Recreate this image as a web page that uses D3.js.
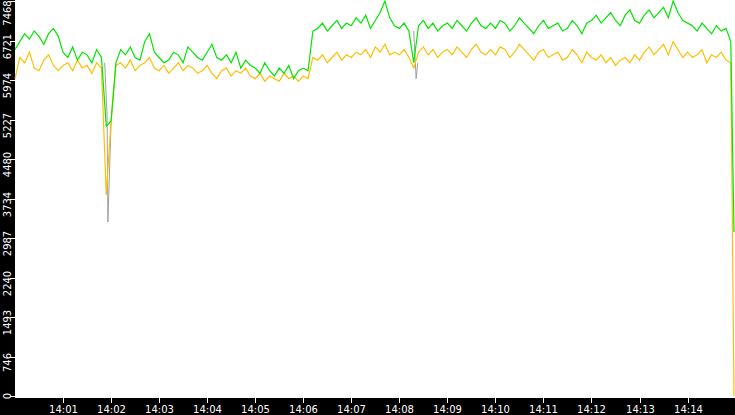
<!DOCTYPE html>
<html><head><meta charset="utf-8">
<script src="https://cdn.jsdelivr.net/npm/d3@7"></script>
<style>body{margin:0;background:#000}svg{display:block}</style>
</head><body>
<svg id="chart" width="735" height="415"></svg>
<script>
// values every 6 s from 14:00:00
const greenVals = [
6550,6700,6850,6750,6900,6800,6650,6850,6950,6800,
6500,6400,6600,6350,6500,6450,6300,6550,6400,5100,
5200,6300,6550,6450,6600,6400,6350,6700,6850,6500,
6400,6300,6350,6500,6450,6300,6600,6500,6400,6350,
6500,6650,6400,6350,6450,6300,6500,6200,6350,6250,
6200,6100,6300,6150,6050,6200,6100,6250,6000,6150,
6200,6150,6900,6950,7050,6900,7000,7100,6950,7050,
7000,7150,7050,7200,6950,7100,7250,7468,7150,7000,
6950,7050,6900,6300,7000,7100,6950,7050,6900,7000,
7050,6950,7100,7000,6900,7050,7150,7000,6950,7050,
6950,7100,7050,6900,7000,7150,7050,6950,6850,7000,
7100,6950,7000,7050,6900,6950,7100,7000,6850,7050,
7100,7200,7050,7150,7250,7100,7000,7200,7300,7100,
7050,7200,7300,7150,7250,7350,7150,7468,7250,7100,
7050,7000,6900,7050,6950,6850,7000,6900,6950,6700,3100];
const orangeVals = [
6000,6400,6300,6500,6200,6150,6350,6450,6250,6150,
6250,6300,6150,6350,6200,6250,6100,6300,6200,3800,
5200,6250,6300,6200,6350,6150,6250,6300,6400,6200,
6150,6250,6100,6200,6300,6150,6250,6200,6100,6150,
6250,6100,6000,6150,6200,6050,6150,6100,6200,6050,
6000,6100,5950,6050,6000,5950,6100,6000,6050,5950,
6050,6000,6400,6350,6450,6300,6400,6500,6350,6450,
6400,6500,6450,6550,6400,6600,6500,6650,6450,6500,
6450,6550,6400,6200,6500,6600,6450,6550,6400,6500,
6550,6450,6600,6500,6400,6550,6650,6500,6450,6550,
6450,6600,6550,6400,6500,6650,6550,6450,6350,6500,
6550,6400,6450,6500,6350,6400,6550,6450,6300,6500,
6400,6350,6450,6300,6400,6250,6350,6400,6300,6450,
6350,6500,6600,6450,6550,6650,6450,6700,6550,6400,
6500,6400,6450,6550,6300,6450,6400,6500,6350,6300,0];
// gray segments only where it shows: [seconds after 14:00, value]
const graySegs = [
  [[112,6300],[115,5300],[116,3290],[118,4200],[120,5200]],
  [[498,6900],[501,6000],[503,6300]]
];
const yTicks = [0,746,1493,2240,2987,3734,4480,5227,5974,6721,7468];
const xTickMins = [1,2,3,4,5,6,7,8,9,10,11,12,13,14];

const svg = d3.select("#chart");
const W = 735, L = 15, B = 398;
const x = d3.scaleLinear().domain([0, 898]).range([L, W - 1]);
const y = d3.scaleLinear().domain([0, 7468]).range([396, 1]);

svg.append("rect").attr("x", L).attr("y", 0).attr("width", W - L).attr("height", B).attr("fill", "#fff");

const line = d3.line().x(d => x(d[0])).y(d => y(d[1]));
const toPts = vals => vals.map((v, i) => [i === vals.length - 1 ? 898 : i * 6, v]);

graySegs.forEach(s => svg.append("path").attr("d", line(s)).attr("fill", "none").attr("stroke", "#a0a0a0").attr("stroke-width", 1));
svg.append("path").attr("d", line(toPts(orangeVals))).attr("fill", "none").attr("stroke", "#ffbf00").attr("stroke-width", 1.2);
svg.append("path").attr("d", line(toPts(greenVals))).attr("fill", "none").attr("stroke", "#00e600").attr("stroke-width", 1.2);

// y axis
yTicks.forEach(t => {
  const yy = Math.round(y(t)) + 0.5;
  svg.append("line").attr("x1", 10).attr("x2", L).attr("y1", yy).attr("y2", yy).attr("stroke", "#fff");
  const cy = Math.min(Math.max(yy + 5, 13), 396);
  svg.append("text").attr("transform", `translate(11,${cy}) rotate(-90)`)
    .attr("text-anchor", "middle").attr("fill", "#fff")
    .attr("font-family", "DejaVu Sans").attr("font-size", 10).text(t);
});
// x axis
xTickMins.forEach(m => {
  const xx = Math.round(x(m * 60)) + 0.5;
  svg.append("line").attr("x1", xx).attr("x2", xx).attr("y1", B).attr("y2", B + 5).attr("stroke", "#fff");
  svg.append("text").attr("x", xx).attr("y", 413).attr("text-anchor", "middle").attr("fill", "#fff")
    .attr("font-family", "DejaVu Sans").attr("font-size", 10).text("14:" + String(m).padStart(2, "0"));
});
</script>
</body></html>
